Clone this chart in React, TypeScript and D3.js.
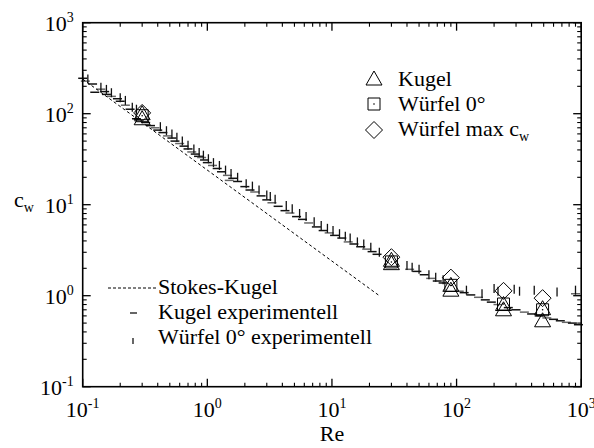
import * as d3 from 'd3'

// Stokes law line (cw = 24/Re), end points
const stokesLine: [number, number][] = [[0.1, 240], [24, 1]]

// Kugel experimentell (horizontal dashes)
const kugelExp: [number, number][] = [
  [0.1, 245], [0.105, 228], [0.12, 212], [0.125, 172], [0.14, 186], [0.15, 175], [0.155, 163],
  [0.17, 155], [0.19, 146], [0.2, 137], [0.22, 124], [0.24, 112], [0.27, 88], [0.28, 84],
  [0.32, 80], [0.35, 74], [0.38, 70], [0.4, 66], [0.44, 62], [0.48, 57], [0.52, 54], [0.55, 50],
  [0.6, 47], [0.65, 44], [0.7, 41], [0.75, 38], [0.8, 36], [0.85, 34], [0.9, 33], [0.95, 31],
  [1.0, 29], [1.1, 27], [1.2, 25], [1.3, 23], [1.45, 21], [1.6, 19.5], [1.75, 18], [1.5, 18.5],
  [2.0, 15.8], [2.2, 14.5], [2.4, 13.8], [2.7, 12.5], [3.0, 11.3], [3.3, 10.5], [3.7, 9.6],
  [4.2, 8.6], [4.6, 8.1], [5.2, 7.4], [5.8, 6.9], [6.5, 6.3], [7.5, 5.7], [8.5, 5.2], [9.5, 4.9],
  [10.5, 4.6], [12, 4.3], [13.5, 3.9], [15, 3.7], [17, 3.45], [19, 3.25], [21, 3.05], [23, 2.85],
  [42, 1.95], [48, 1.85], [55, 1.7], [62, 1.55], [70, 1.45], [78, 1.38], [105, 1.12], [115, 1.08],
  [130, 1.02], [150, 0.96], [170, 0.9], [190, 0.85], [215, 0.8], [260, 0.74], [300, 0.7],
  [350, 0.66], [400, 0.63], [460, 0.6], [530, 0.57], [600, 0.55], [680, 0.53], [760, 0.51],
  [850, 0.5], [950, 0.48], [900, 1.05],
]

// Würfel 0° experimentell (vertical dashes)
const wuerfelExp: [number, number][] = [
  [0.1, 255], [0.11, 240], [0.14, 195], [0.155, 185], [0.17, 170], [0.2, 150], [0.22, 140],
  [0.25, 118], [0.27, 112], [0.42, 72], [0.47, 65], [0.52, 60], [0.57, 55], [0.63, 50], [0.7, 45],
  [0.78, 41], [0.86, 37.5], [0.93, 35], [1.02, 32], [1.12, 29], [1.25, 27], [1.4, 24], [1.55, 22],
  [1.75, 20], [2.05, 17], [2.3, 16], [2.6, 14.5], [3.0, 12.8], [3.2, 12.3], [3.5, 11.5],
  [4.3, 9.8], [4.8, 9], [5.5, 8], [6.2, 7.4], [7.2, 6.5], [8.2, 5.9], [9.2, 5.5], [10.2, 5.2],
  [11.5, 4.8], [12.8, 4.5], [14, 4.3], [16, 3.9], [18, 3.7], [20.5, 3.4], [24, 3.0], [40, 2.15],
  [44, 2.05], [50, 1.95], [60, 1.7], [68, 1.6], [78, 1.5], [120, 1.15], [160, 1.05], [200, 1.2],
  [215, 1.12], [290, 1.18], [320, 1.12], [420, 1.15], [640, 1.1], [900, 1.15],
]

// measured markers
const kugel: [number, number][] = [
  [0.3, 100], [0.3, 88], [30, 2.45], [30, 2.25], [90, 1.3], [90, 1.15],
  [238, 0.8], [238, 0.7], [490, 0.72], [490, 0.53],
]
const wuerfel0: [number, number][] = [[0.3, 95], [30, 2.35], [90, 1.3], [238, 0.81], [490, 0.7]]
const wuerfelMax: [number, number][] = [[0.3, 102], [30, 2.65], [90, 1.58], [238, 1.13], [490, 0.94]]

const decades = [-1, 0, 1, 2, 3]
const minorMult = [2, 3, 4, 5, 6, 7, 8, 9]

const W = 594
const H = 448
const L = 82.7
const R = 581.2
const T = 22.7
const B = 386.7
const FONT = 'Liberation Serif'
const FS = 22
const SUB = 14

const x = d3.scaleLog().domain([0.1, 1000]).range([L, R])
const y = d3.scaleLog().domain([0.1, 1000]).range([B, T])

const tri = (cx: number, cy: number, s = 8) =>
  `M${cx},${cy - s}L${cx + s},${cy + s * 0.75}L${cx - s},${cy + s * 0.75}Z`
const sq = (cx: number, cy: number, s = 6) =>
  `M${cx - s},${cy - s}H${cx + s}V${cy + s}H${cx - s}Z`
const dia = (cx: number, cy: number, s = 8.5) =>
  `M${cx},${cy - s}L${cx + s},${cy}L${cx},${cy + s}L${cx - s},${cy}Z`

export default function App() {
  const stokes = d3.line<[number, number]>().x(d => x(d[0])).y(d => y(d[1]))(stokesLine) || ''

  const minorVals: number[] = []
  decades.slice(0, 4).forEach(k => minorMult.forEach(m => minorVals.push(m * Math.pow(10, k))))
  const majorVals = decades.map(k => Math.pow(10, k))

  const mk = { fill: 'none', stroke: '#000', strokeWidth: 1 }
  const ts = { fontFamily: FONT, fontSize: FS }

  return (
    <svg width={W} height={H} style={{ position: 'absolute', left: 0, top: 0, background: '#fff' }}>
      <rect width={W} height={H} fill="#fff" />

      {/* experimental dashes */}
      {kugelExp.map((d, i) => (
        <line key={'k' + i} x1={x(d[0]) - 4.5} x2={x(d[0]) + 4.5} y1={y(d[1])} y2={y(d[1])}
          stroke={i % 3 === 1 ? '#666' : '#111'} strokeWidth={1.5} />
      ))}
      {wuerfelExp.map((d, i) => (
        <line key={'w' + i} x1={x(d[0])} x2={x(d[0])} y1={y(d[1]) - 4.5} y2={y(d[1]) + 4.5}
          stroke="#111" strokeWidth={1.3} />
      ))}

      {/* Stokes */}
      <path d={stokes} fill="none" stroke="#000" strokeWidth={1} strokeDasharray="3,2.5" />

      {/* markers */}
      {kugel.map((d, i) => <path key={'t' + i} d={tri(x(d[0]), y(d[1]))} {...mk} />)}
      {wuerfel0.map((d, i) => (
        <g key={'s' + i}>
          <path d={sq(x(d[0]), y(d[1]))} {...mk} />
          <circle cx={x(d[0])} cy={y(d[1])} r={0.8} fill="#000" />
        </g>
      ))}
      {wuerfelMax.map((d, i) => <path key={'d' + i} d={dia(x(d[0]), y(d[1]))} {...mk} />)}

      {/* frame */}
      <rect x={L} y={T} width={R - L} height={B - T} fill="none" stroke="#000" strokeWidth={1.6} />

      {/* ticks, inward on all sides */}
      {majorVals.map(v => (
        <g key={'M' + v} stroke="#000" strokeWidth={1.3}>
          <line x1={x(v)} x2={x(v)} y1={B} y2={B - 8} />
          <line x1={x(v)} x2={x(v)} y1={T} y2={T + 8} />
          <line x1={L} x2={L + 8} y1={y(v)} y2={y(v)} />
          <line x1={R} x2={R - 8} y1={y(v)} y2={y(v)} />
        </g>
      ))}
      {minorVals.map(v => (
        <g key={'m' + v} stroke="#000" strokeWidth={1.1}>
          <line x1={x(v)} x2={x(v)} y1={B} y2={B - 4} />
          <line x1={x(v)} x2={x(v)} y1={T} y2={T + 4} />
          <line x1={L} x2={L + 4} y1={y(v)} y2={y(v)} />
          <line x1={R} x2={R - 4} y1={y(v)} y2={y(v)} />
        </g>
      ))}

      {/* tick labels */}
      {decades.map(k => (
        <text key={'xl' + k} x={x(Math.pow(10, k))} y={B + 30} textAnchor="middle" style={ts}>
          10<tspan style={{ fontSize: SUB }} dy={-9}>{k}</tspan>
        </text>
      ))}
      {decades.map(k => (
        <text key={'yl' + k} x={L - 9} y={y(Math.pow(10, k)) + 8} textAnchor="end" style={ts}>
          10<tspan style={{ fontSize: SUB }} dy={-9}>{k}</tspan>
        </text>
      ))}

      {/* axis titles */}
      <text x={(L + R) / 2} y={441} textAnchor="middle" style={ts}>Re</text>
      <text x={14} y={207} style={ts}>c<tspan style={{ fontSize: SUB }} dy={5}>w</tspan></text>

      {/* upper legend */}
      <path d={tri(374, 79)} {...mk} />
      <text x={398} y={86} style={ts}>Kugel</text>
      <path d={sq(374, 104)} {...mk} />
      <circle cx={374} cy={104} r={0.8} fill="#000" />
      <text x={398} y={111} style={ts}>Würfel 0°</text>
      <path d={dia(374, 130)} {...mk} />
      <text x={398} y={136} style={ts}>Würfel max c<tspan style={{ fontSize: SUB }} dy={5}>w</tspan></text>

      {/* lower legend */}
      <line x1={108} x2={156} y1={288} y2={288} stroke="#000" strokeWidth={1} strokeDasharray="3,2" />
      <text x={158} y={294} style={ts}>Stokes-Kugel</text>
      <line x1={130} x2={137} y1={313} y2={313} stroke="#000" strokeWidth={1.2} />
      <text x={158} y={319} style={ts}>Kugel experimentell</text>
      <line x1={133} x2={133} y1={338} y2={344} stroke="#000" strokeWidth={1.2} />
      <text x={158} y={344} style={ts}>Würfel 0° experimentell</text>
    </svg>
  )
}
